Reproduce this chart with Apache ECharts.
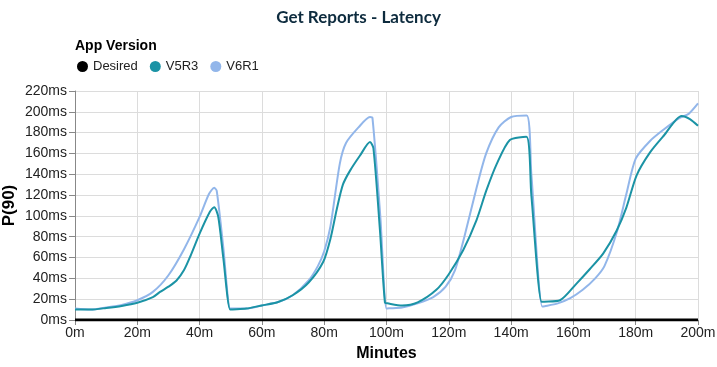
<!DOCTYPE html>
<html><head><meta charset="utf-8">
<script src="https://cdn.jsdelivr.net/npm/echarts@6/dist/echarts.min.js"></script>
<style>html,body{margin:0;padding:0;background:#fff}#c{width:717px;height:367px}</style>
</head><body><div id="c"></div>
<script>
const xTicks = ['0m','20m','40m','60m','80m','100m','120m','140m','160m','180m','200m'];
const desiredX = [0, 200];
const desiredY = [0, 0];
const v5r3X = [0,5,10,15,20,25,27.3,30,32.6,35,37,40,43.3,44.7,46,47.6,49.8,50.6,55,60,65,70,75,79.7,82,84,86,88.3,91.5,94.7,95.8,97.9,99.5,100.3,105,110,116,120,124.6,128.9,132,135.4,139.6,144.9,146.5,149.8,150.6,155.7,161,165.3,169.6,173.9,177,180.3,184.6,189,194.7,197.4,200];
const v5r3Y = [10,10,11.5,13.5,16.6,22,27,32,38,48,61,83,104,108.4,99,60,10,10.2,11,14,17,24,36,56,78,106,130,143.5,158,171,165,86,16.6,16,14,17,29,44,67,96,124,150,173,176,120,17.5,17.6,19,35,49,64,86,108,139,161,177,196,193,186.6];
const v6r1X = [0,5,10,15,20,25,30,35,40,43,44.7,45.5,47.6,49.8,50.6,55,60,65,70,75,78,80,82,85,87,91,94.7,95.5,98,100,100.8,105,110,115,119,122,125,129,132,136,140,145,146.5,150,150.8,155,159,163,167,170,174,177,180,184.6,189,194,197,200];
const v6r1Y = [11,10,12,14.5,19,27,43,68,99,121,127,124,70,11,11,11,14,17,24,38,52,66,90,150,170,185,195,194,100,11,11.2,12,16,22,32,48,80,128,160,185,195,196.5,140,13,13.3,16,21,29,40,52,85,121,155,172,183,194,198,208];

const zip = (xs, ys) => xs.map((x, i) => [x, ys[i]]);
const font = 'Liberation Sans, Arial, sans-serif';
const chart = echarts.init(document.getElementById('c'), null, {renderer: 'canvas'});
chart.setOption({
  animation: false,
  backgroundColor: '#fff',
  title: [
    {text: 'Get Reports - Latency', left: 'center', top: 4,
     textStyle: {fontFamily: 'Lato, sans-serif', fontWeight: 'bold', fontSize: 17, color: '#0d2b3e'}},
    {text: 'App Version', left: 70, top: 34,
     textStyle: {fontFamily: font, fontWeight: 'bold', fontSize: 14, color: '#000'}}
  ],
  legend: {
    left: 72, top: 55, icon: 'circle', itemWidth: 11, itemHeight: 11, itemGap: 12,
    textStyle: {fontFamily: font, fontSize: 13, color: '#222'},
    data: ['Desired', 'V5R3', 'V6R1']
  },
  grid: {left: 75, right: 19, top: 91, bottom: 47, containLabel: false, outerBoundsMode: 'none'},
  xAxis: {
    type: 'value', min: 0, max: 200, interval: 20,
    name: 'Minutes', nameLocation: 'middle', nameGap: 26, nameMoveOverlap: false,
    nameTextStyle: {fontFamily: font, fontWeight: 'bold', fontSize: 16, color: '#000'},
    axisLine: {show: true, lineStyle: {color: '#888'}},
    axisTick: {show: true, length: 5, lineStyle: {color: '#888'}},
    axisLabel: {fontFamily: font, fontSize: 14, color: '#222', margin: 6,
      formatter: v => xTicks[Math.round(v / 20)]},
    splitLine: {show: true, lineStyle: {color: '#dcdcdc'}}
  },
  yAxis: {
    type: 'value', min: 0, max: 220, interval: 20,
    name: 'P(90)', nameLocation: 'middle', nameGap: 57, nameRotate: 90, nameMoveOverlap: false,
    nameTextStyle: {fontFamily: font, fontWeight: 'bold', fontSize: 17, color: '#000'},
    axisLine: {show: true, lineStyle: {color: '#888'}},
    axisTick: {show: true, length: 6, lineStyle: {color: '#888'}},
    axisLabel: {fontFamily: font, fontSize: 14, color: '#222', margin: 8, formatter: v => v + 'ms'},
    splitLine: {show: true, lineStyle: {color: '#dcdcdc'}}
  },
  series: [
    {name: 'Desired', type: 'line', data: zip(desiredX, desiredY), showSymbol: false, symbol: 'circle',
     itemStyle: {color: '#000'}, lineStyle: {color: '#000', width: 3}, z: 5},
    {name: 'V5R3', type: 'line', data: zip(v5r3X, v5r3Y), showSymbol: false, symbol: 'circle',
     smooth: 0.25,
     itemStyle: {color: '#1b93a5'}, lineStyle: {color: '#1b93a5', width: 2}, z: 3},
    {name: 'V6R1', type: 'line', data: zip(v6r1X, v6r1Y), showSymbol: false, symbol: 'circle',
     smooth: 0.25,
     itemStyle: {color: '#92b6ea'}, lineStyle: {color: '#92b6ea', width: 2}, z: 2}
  ]
});
</script></body></html>
